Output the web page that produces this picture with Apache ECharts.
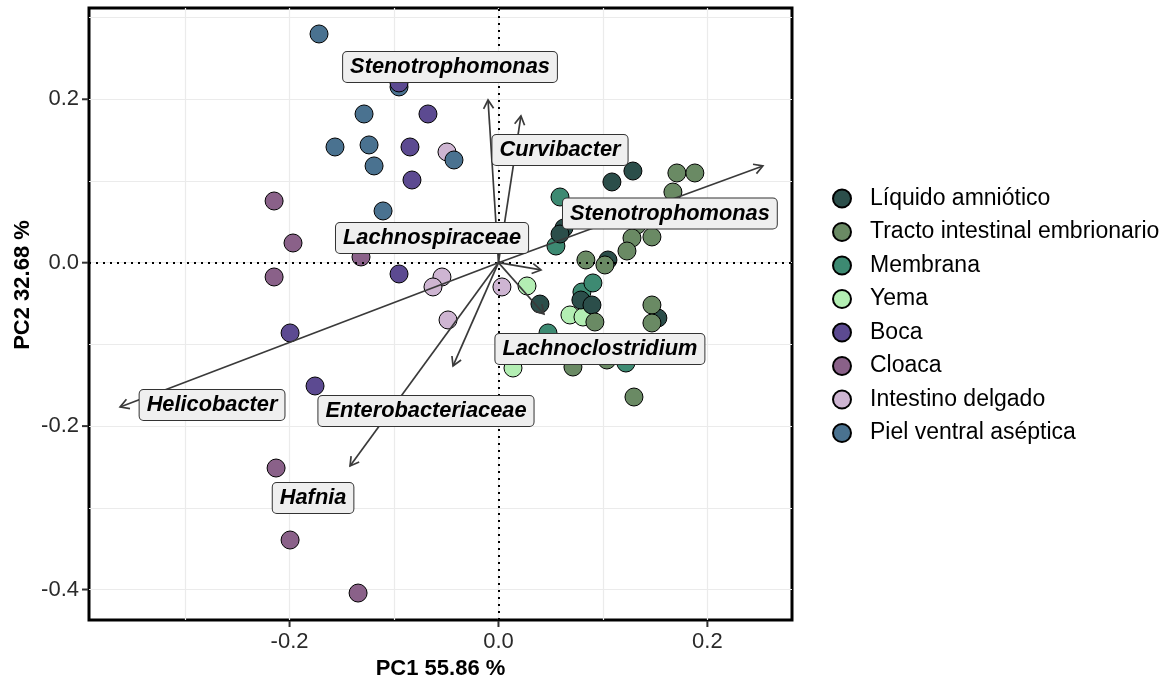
<!DOCTYPE html>
<html>
<head>
<meta charset="utf-8">
<script src="https://cdn.jsdelivr.net/npm/echarts@6/dist/echarts.min.js"></script>
<style>html,body{margin:0;padding:0;background:#fff}#c{width:1169px;height:679px}</style>
</head>
<body>
<div id="c"></div>
<script>
// ---------- DATA ----------
const groups = ['Líquido amniótico','Tracto intestinal embrionario','Membrana','Yema','Boca','Cloaca','Intestino delgado','Piel ventral aséptica'];
const colors = ['#2b4e4a','#6a8a64','#3d8a72','#b3eeb3','#5c4a91','#8a6189','#ceb5d2','#4a7290'];

const liquidoAmniotico = [[0.1086,0.0988],[0.1287,0.1122],[0.0627,0.0425],[0.0589,0.0351],[0.1048,0.0033],[0.0397,-0.0506],[0.0789,-0.0457],[0.0895,-0.0518],[0.1526,-0.0677]];
const tractoIntestinal = [[0.1708,0.1098],[0.1880,0.1098],[0.1670,0.0865],[0.1325,0.0461],[0.1278,0.0302],[0.1469,0.0315],[0.1230,0.0143],[0.0837,0.0033],[0.1019,-0.0028],[0.1469,-0.0518],[0.1469,-0.0738],[0.0923,-0.0726],[0.0713,-0.1277],[0.1038,-0.1191],[0.1297,-0.1644]];
const membrana = [[0.0589,0.0804],[0.0550,0.0204],[0.0799,-0.0359],[0.0904,-0.0248],[0.0474,-0.0860],[0.1220,-0.1228]];
const yema = [[0.0273,-0.0285],[0.0684,-0.0640],[0.0809,-0.0665],[0.0139,-0.1289]];
const boca = [[-0.0952,0.2200],[-0.0675,0.1820],[-0.0847,0.1416],[-0.0828,0.1012],[-0.0952,-0.0138],[-0.1995,-0.0860],[-0.1756,-0.1509]];
const cloaca = [[-0.2148,0.0755],[-0.1967,0.0241],[-0.1316,0.0070],[-0.2148,-0.0175],[-0.2129,-0.2513],[-0.1995,-0.3394],[-0.1344,-0.4043]];
const intestinoDelgado = [[-0.0493,0.1355],[-0.0541,-0.0175],[-0.0627,-0.0297],[-0.0483,-0.0701],[0.0033,-0.0297]];
const pielVentral = [[-0.1718,0.2799],[-0.0952,0.2151],[-0.1287,0.1820],[-0.1565,0.1416],[-0.1239,0.1441],[-0.1191,0.1184],[-0.0426,0.1257],[-0.1105,0.0633]];

const arrowNames = ['Helicobacter','Stenotrophomonas','Curvibacter','Stenotrophomonas','Lachnospiraceae','Lachnoclostridium','Enterobacteriaceae','Hafnia'];
const arrowEnds = [[-0.3622,-0.1766],[-0.0100,0.1991],[0.0215,0.1796],[0.2531,0.1184],[0.0407,-0.0089],[0.0435,-0.0628],[-0.0435,-0.1264],[-0.1421,-0.2488]];
const labelPos = [[-0.2742,-0.1742],[-0.0464,0.2395],[0.0589,0.1379],[0.1641,0.0602],[-0.0636,0.0302],[0.0971,-0.1056],[-0.0694,-0.1815],[-0.1775,-0.2880]];

const xTicks = [-0.2, 0, 0.2];
const xTickLabels = ['-0.2','0.0','0.2'];
const yTicks = [-0.4, -0.2, 0, 0.2];
const yTickLabels = ['-0.4','-0.2','0.0','0.2'];
const X_MIN = -0.392, X_MAX = 0.281, Y_MIN = -0.4373, Y_MAX = 0.3117;

const seriesData = [liquidoAmniotico, tractoIntestinal, membrana, yema, boca, cloaca, intestinoDelgado, pielVentral];
const drawOrder = [3, 2, 0, 1, 5, 6, 7, 4];

// ---------- CHART ----------
const FONT = '"Liberation Sans", Arial, Helvetica, sans-serif';
const chart = echarts.init(document.getElementById('c'), null, {renderer: 'canvas'});

function fmt(ticks, labels) {
  return function (v) {
    for (let i = 0; i < ticks.length; i++) if (Math.abs(v - ticks[i]) < 1e-6) return labels[i];
    return '';
  };
}

const series = [];
drawOrder.forEach(function (gi) {
  series.push({
    name: groups[gi], type: 'scatter', data: seriesData[gi], z: 2,
    symbol: 'circle', symbolSize: 18,
    itemStyle: {color: colors[gi], borderColor: '#000', borderWidth: 1, opacity: 1},
    emphasis: {disabled: true}
  });
});

// zero reference lines
series.push({
  type: 'scatter', data: [], z: 3, silent: true,
  markLine: {
    silent: true, symbol: ['none','none'], z: 3,
    label: {show: false},
    lineStyle: {type: [2, 5], color: '#000', width: 2},
    emphasis: {disabled: true},
    data: [{xAxis: 0}, {yAxis: 0}]
  }
});

// arrows
series.push({
  type: 'custom', z: 4, silent: true,
  data: arrowEnds,
  renderItem: function (params, api) {
    const o = api.coord([0, 0]);
    const e = api.coord([api.value(0), api.value(1)]);
    const ang = Math.atan2(e[1] - o[1], e[0] - o[0]);
    const L = 10, a = Math.PI / 6;
    const h1 = [e[0] - L * Math.cos(ang - a), e[1] - L * Math.sin(ang - a)];
    const h2 = [e[0] - L * Math.cos(ang + a), e[1] - L * Math.sin(ang + a)];
    const st = {stroke: '#3a3a3a', lineWidth: 1.7, fill: null};
    return {type: 'group', children: [
      {type: 'line', shape: {x1: o[0], y1: o[1], x2: e[0], y2: e[1]}, style: st},
      {type: 'polyline', shape: {points: [h1, e, h2]}, style: st}
    ]};
  }
});

// labels
series.push({
  type: 'custom', z: 5, silent: true,
  data: labelPos.map(function (p, i) { return [p[0], p[1], i]; }),
  renderItem: function (params, api) {
    const c = api.coord([api.value(0), api.value(1)]);
    const name = arrowNames[api.value(2)];
    return {
      type: 'text', x: c[0], y: c[1],
      style: {
        text: name, font: 'italic bold 21.8px ' + FONT, fill: '#000',
        align: 'center', verticalAlign: 'middle',
        backgroundColor: '#efefef', borderColor: '#333', borderWidth: 1,
        borderRadius: 4, padding: [4, 7, 4, 7], lineHeight: 22
      }
    };
  }
});

// axis ticks
series.push({
  type: 'custom', z: 6, silent: true,
  data: xTicks.map(function (v) { return [v, Y_MIN]; }),
  renderItem: function (params, api) {
    const p = api.coord([api.value(0), api.value(1)]);
    return {type: 'line', shape: {x1: p[0], y1: p[1] + 1, x2: p[0], y2: p[1] + 7}, style: {stroke: '#333', lineWidth: 2}};
  }
});
series.push({
  type: 'custom', z: 6, silent: true,
  data: yTicks.map(function (v) { return [X_MIN, v]; }),
  renderItem: function (params, api) {
    const p = api.coord([api.value(0), api.value(1)]);
    return {type: 'line', shape: {x1: p[0] - 1, y1: p[1], x2: p[0] - 7, y2: p[1]}, style: {stroke: '#333', lineWidth: 2}};
  }
});

chart.setOption({
  animation: false,
  backgroundColor: '#fff',
  textStyle: {fontFamily: FONT},
  grid: {left: 89, top: 8, width: 703, height: 612, containLabel: false, outerBoundsMode: 'none',
         show: true, borderColor: '#000', borderWidth: 3, backgroundColor: 'transparent'},
  xAxis: {
    type: 'value', min: X_MIN, max: X_MAX, splitNumber: 7,
    axisLine: {show: false}, axisTick: {show: false},
    axisLabel: {formatter: fmt(xTicks, xTickLabels), fontSize: 22, color: '#2a2a2a', margin: 11, fontFamily: FONT},
    splitLine: {show: true, showMinLine: false, showMaxLine: false, lineStyle: {color: '#ebebeb', width: 1.2}},
    name: 'PC1 55.86 %', nameLocation: 'middle', nameGap: 34,
    nameTextStyle: {fontSize: 22, fontWeight: 'bold', color: '#000', fontFamily: FONT}
  },
  yAxis: {
    type: 'value', min: Y_MIN, max: Y_MAX, splitNumber: 7,
    axisLine: {show: false}, axisTick: {show: false},
    axisLabel: {formatter: fmt(yTicks, yTickLabels), fontSize: 22, color: '#2a2a2a', margin: 10, fontFamily: FONT},
    splitLine: {show: true, showMinLine: false, showMaxLine: false, lineStyle: {color: '#ebebeb', width: 1.2}}
  },
  graphic: [{
    type: 'text', x: 23, y: 285, rotation: Math.PI / 2,
    style: {text: 'PC2 32.68 %', font: 'bold 22px ' + FONT, fill: '#000', align: 'center', verticalAlign: 'middle'}
  }],
  legend: {
    data: groups, orient: 'vertical', left: 827, top: 182,
    icon: 'circle', itemWidth: 46, itemHeight: 18, itemGap: 10.5,
    textStyle: {fontSize: 23, color: '#000', lineHeight: 22, fontFamily: FONT},
    selectedMode: false
  },
  series: series
});
</script>
</body>
</html>
